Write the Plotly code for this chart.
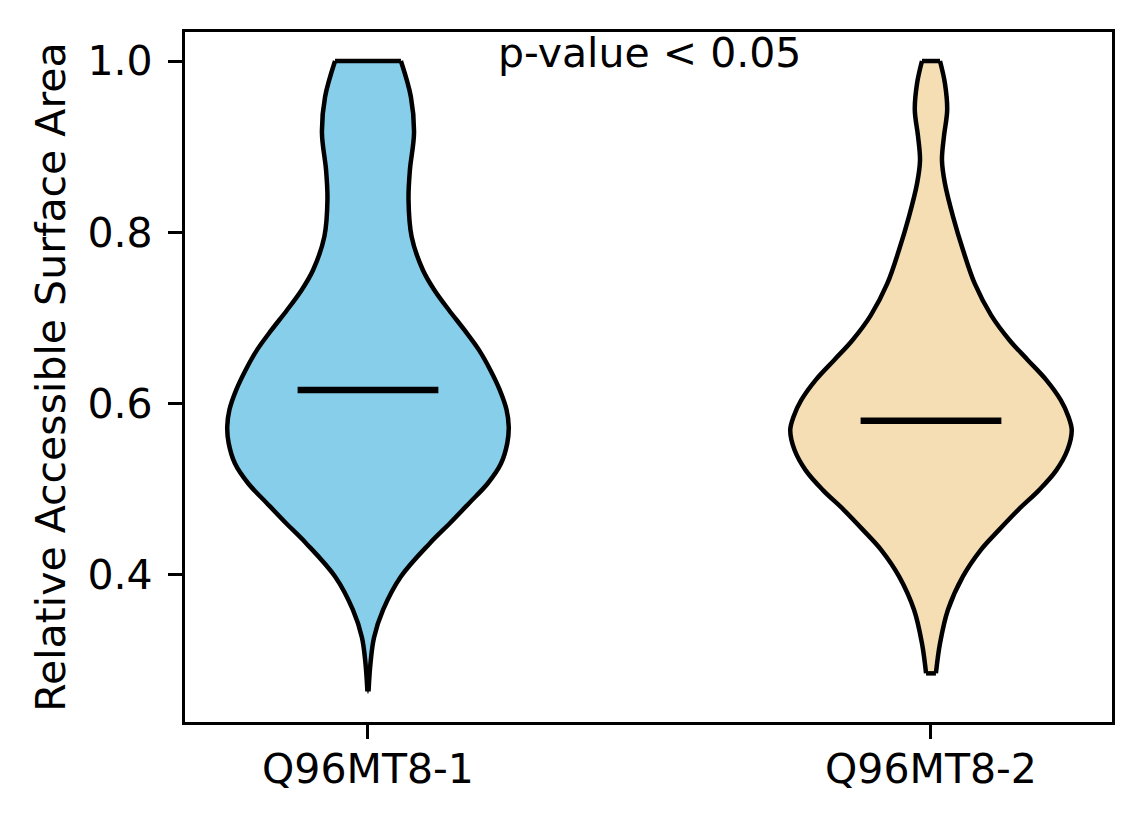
import plotly.graph_objects as go

# violin profiles: value levels and relative width (max = 1)
positions = [1, 2]
labels = ['Q96MT8-1', 'Q96MT8-2']
colors = ['#87CEEB', '#F5DEB3']

q1_levels = [0.264, 0.297, 0.327, 0.359, 0.398, 0.437, 0.460, 0.484, 0.507, 0.530,
             0.554, 0.573, 0.593, 0.616, 0.639, 0.663, 0.686, 0.709, 0.733, 0.756,
             0.795, 0.838, 0.873, 0.916, 0.958, 1.0]
q1_density = [0.004, 0.018, 0.043, 0.107, 0.234, 0.440, 0.580, 0.720, 0.852, 0.945,
              0.990, 1.0, 0.984, 0.936, 0.870, 0.787, 0.685, 0.576, 0.470, 0.390,
              0.310, 0.288, 0.298, 0.327, 0.305, 0.234]

q2_levels = [0.285, 0.320, 0.359, 0.398, 0.429, 0.452, 0.476, 0.499, 0.522, 0.546,
             0.569, 0.585, 0.604, 0.628, 0.651, 0.674, 0.703, 0.740, 0.779, 0.818,
             0.857, 0.884, 0.912, 0.943, 0.974, 1.0]
q2_density = [0.035, 0.064, 0.120, 0.226, 0.353, 0.480, 0.620, 0.768, 0.890, 0.970,
              1.0, 0.976, 0.922, 0.817, 0.687, 0.558, 0.428, 0.311, 0.228, 0.157,
              0.099, 0.078, 0.092, 0.115, 0.099, 0.064]

means = [0.616, 0.580]

levels = [q1_levels, q2_levels]
densities = [q1_density, q2_density]

half_width = 0.25
font = dict(family='DejaVu Sans', size=41, color='black')
edge = dict(color='black', width=4.5, shape='spline', smoothing=1.0)

fig = go.Figure()

for pos, lev, dens, col in zip(positions, levels, densities, colors):
    left = [pos - half_width * d for d in dens]
    right = [pos + half_width * d for d in dens]
    # left edge, then right edge filled back to it (flat ends stay straight)
    fig.add_trace(go.Scatter(x=left, y=lev, mode='lines', line=edge,
                             hoverinfo='skip', showlegend=False))
    fig.add_trace(go.Scatter(x=right, y=lev, mode='lines', line=edge,
                             fill='tonextx', fillcolor=col,
                             hoverinfo='skip', showlegend=False))
    # the flat cuts at the data extremes
    fig.add_trace(go.Scatter(
        x=[left[0], right[0], None, left[-1], right[-1]],
        y=[lev[0], lev[0], None, lev[-1], lev[-1]],
        mode='lines', line=dict(color='black', width=4.5),
        hoverinfo='skip', showlegend=False))

for pos, m in zip(positions, means):
    fig.add_trace(go.Scatter(
        x=[pos - half_width / 2, pos + half_width / 2], y=[m, m], mode='lines',
        line=dict(color='black', width=6.5), showlegend=False))

fig.add_annotation(x=1.5, y=1.0, xref='x', yref='y', text='p-value < 0.05',
                   showarrow=False, yanchor='middle', yshift=8, font=font)

axis_style = dict(showline=True, mirror=True, linecolor='black', linewidth=3.3,
                  ticks='outside', ticklen=14, tickwidth=3.3, tickcolor='black',
                  showgrid=False, zeroline=False, tickfont=font, automargin=False)

fig.update_xaxes(range=[0.675, 2.3215], tickvals=positions, ticktext=labels,
                 ticklabelstandoff=-5, **axis_style)
fig.update_yaxes(range=[0.2282, 1.0339], tickvals=[0.4, 0.6, 0.8, 1.0],
                 tickformat='.1f', ticklabelstandoff=7,
                 title=dict(text='Relative Accessible Surface Area', font=font, standoff=10),
                 **axis_style)

fig.update_layout(width=1136, height=816, plot_bgcolor='white', paper_bgcolor='white',
                  margin=dict(l=177, r=32, t=24, b=102), font=font)

fig.write_html('out.html')
